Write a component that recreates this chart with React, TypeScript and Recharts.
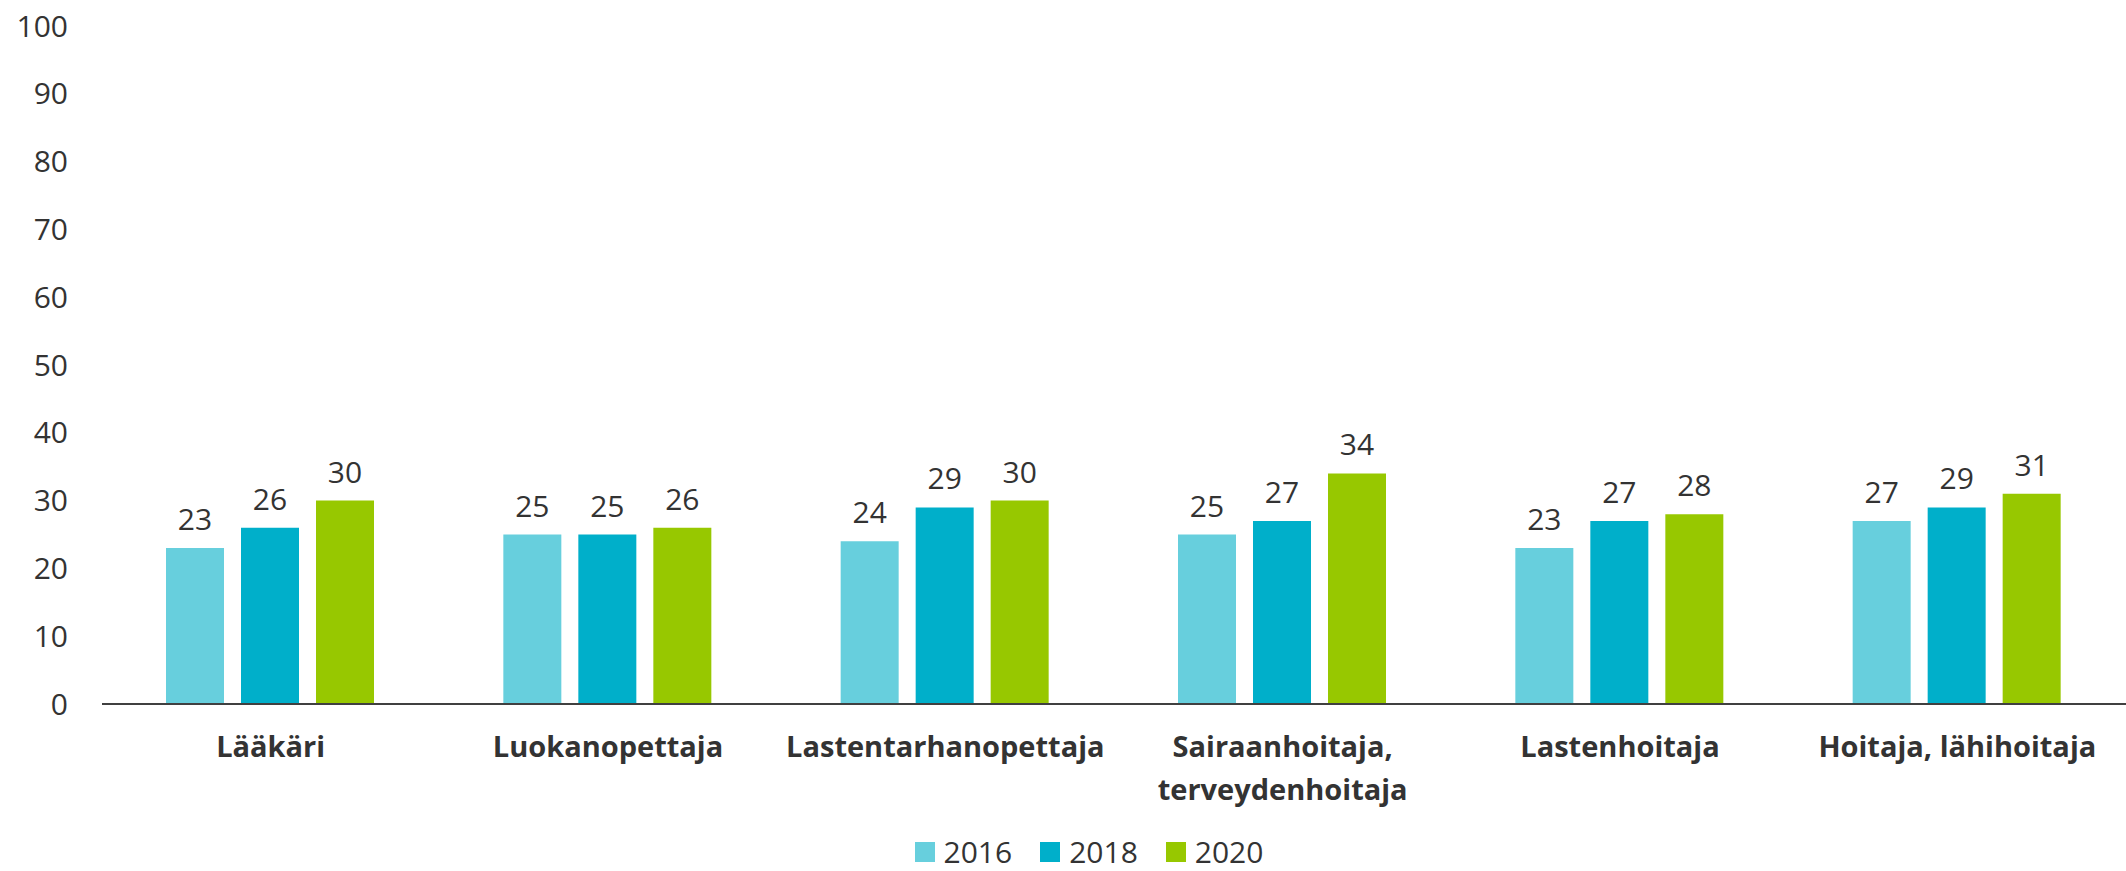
import { BarChart, Bar, XAxis, YAxis, Legend, LabelList } from 'recharts';

const categories = [
    'Lääkäri',
    'Luokanopettaja',
    'Lastentarhanopettaja',
    'Sairaanhoitaja,\nterveydenhoitaja',
    'Lastenhoitaja',
    'Hoitaja, lähihoitaja',
];
const values2016 = [23, 25, 24, 25, 23, 27];
const values2018 = [26, 25, 29, 27, 27, 29];
const values2020 = [30, 26, 30, 34, 28, 31];
const yTicks = [0, 10, 20, 30, 40, 50, 60, 70, 80, 90, 100];

const series = [
    { key: 'y2016', name: '2016', color: '#67CFDD' },
    { key: 'y2018', name: '2018', color: '#00AFCA' },
    { key: 'y2020', name: '2020', color: '#97C800' },
];

const data = categories.map((name, i) => ({
    name,
    y2016: values2016[i],
    y2018: values2018[i],
    y2020: values2020[i],
}));

const FONT = '"Open Sans", "Noto Sans", sans-serif';
const TEXT = '#333333';

const CategoryTick = ({ x, y, payload }: any) => {
    const lines = String(payload.value).split('\n');
    return (
        <text
            x={x}
            y={y}
            textAnchor="middle"
            fill={TEXT}
            fontFamily={FONT}
            fontSize={29}
            fontWeight={700}
        >
            {lines.map((line, i) => (
                <tspan key={i} x={x} dy={i === 0 ? '0.71em' : 43}>
                    {line}
                </tspan>
            ))}
        </text>
    );
};

const LegendContent = () => (
    <div
        style={{
            display: 'flex',
            justifyContent: 'center',
            alignItems: 'center',
            height: 30,
            lineHeight: '30px',
            paddingLeft: 80,
            fontFamily: FONT,
            fontSize: 30,
            color: TEXT,
        }}
    >
        {series.map((s) => (
            <div key={s.key} style={{ display: 'flex', alignItems: 'center', marginRight: 28 }}>
                <span style={{ width: 20, height: 20, background: s.color, marginRight: 9 }} />
                <span>{s.name}</span>
            </div>
        ))}
    </div>
);

export default function App() {
    return (
        <div style={{ position: 'absolute', left: 0, top: 0, background: '#fff' }}>
            <BarChart
                width={2126}
                height={871}
                data={data}
                margin={{ top: 26, right: 0, bottom: 0, left: 0 }}
                barGap={17}
                barCategoryGap={64}
            >
                <YAxis
                    domain={[0, 100]}
                    ticks={yTicks}
                    width={102}
                    axisLine={false}
                    tickLine={false}
                    tickSize={6}
                    tickMargin={28}
                    tick={{ fill: TEXT, fontSize: 30, fontFamily: FONT }}
                />
                <XAxis
                    dataKey="name"
                    height={137}
                    axisLine={{ stroke: '#404040', strokeWidth: 2 }}
                    tickLine={false}
                    tickSize={6}
                    tickMargin={26}
                    interval={0}
                    tick={<CategoryTick />}
                />
                <Legend
                    verticalAlign="bottom"
                    wrapperStyle={{ bottom: 4 }}
                    content={<LegendContent />}
                />
                {series.map((s) => (
                    <Bar key={s.key} dataKey={s.key} name={s.name} fill={s.color} isAnimationActive={false}>
                        <LabelList
                            dataKey={s.key}
                            position="top"
                            offset={18}
                            fill={TEXT}
                            fontSize={30}
                            fontFamily={FONT}
                        />
                    </Bar>
                ))}
            </BarChart>
        </div>
    );
}
